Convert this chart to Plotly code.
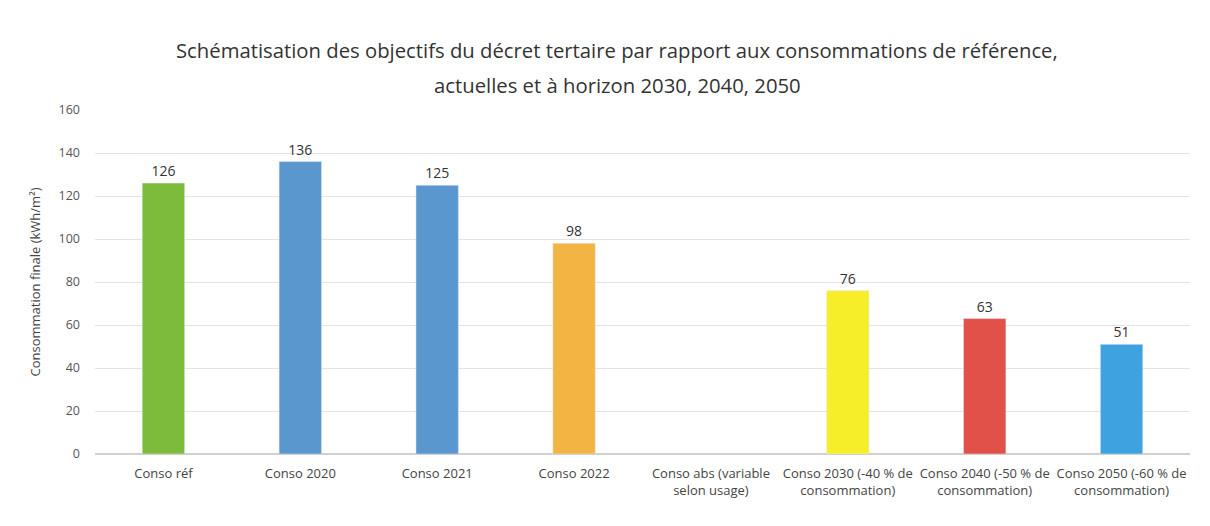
import plotly.graph_objects as go

categories = ["Conso réf", "Conso 2020", "Conso 2021", "Conso 2022",
              "Conso abs (variable<br>selon usage)",
              "Conso 2030 (-40 % de<br>consommation)",
              "Conso 2040 (-50 % de<br>consommation)",
              "Conso 2050 (-60 % de<br>consommation)"]
values = [126, 136, 125, 98, None, 76, 63, 51]
labels = ["126", "136", "125", "98", "", "76", "63", "51"]
colors = ["#7DBB3C", "#5B97CF", "#5B97CF", "#F2B443", "#FFFFFF",
          "#F7EE2A", "#E2504A", "#3FA2E0"]
y_ticks = [0, 20, 40, 60, 80, 100, 120, 140, 160]
title_lines = ["Schématisation des objectifs du décret tertaire par rapport aux consommations de référence,",
               "actuelles et à horizon 2030, 2040, 2050"]

fig = go.Figure(go.Bar(
    x=categories, y=values, marker_color=colors,
    text=labels, textposition="outside",
    textfont=dict(size=14, color="#333333"),
    cliponaxis=False,
))

top, bottom, H = 110, 72, 526
ph = H - top - bottom
for line, py in zip(title_lines, [50, 85]):
    fig.add_annotation(
        text=line, xref="paper", yref="paper",
        x=0.477, y=(H - bottom - py) / ph, xanchor="center", yanchor="middle",
        showarrow=False, font=dict(size=20.3, color="#333333"),
    )

fig.update_layout(
    width=1210, height=526,
    margin=dict(l=95, r=20, t=top, b=bottom),
    paper_bgcolor="white", plot_bgcolor="white",
    font=dict(family="Open Sans", color="#444444"),
    bargap=0.69,
    showlegend=False,
)
fig.update_yaxes(
    range=[0, 160], tickvals=y_ticks, showgrid=True, gridcolor="#E3E3E3",
    zeroline=True, zerolinecolor="#D0D0D0", tickfont=dict(size=12.5, color="#555555"),
    title=dict(text="Consommation finale (kWh/m²)", font=dict(size=13, color="#444444"), standoff=14),
    ticks="", ticklabelstandoff=14,
)
fig.update_xaxes(
    tickfont=dict(size=13, color="#444444"), showline=False, ticks="",
    ticklabelstandoff=10,
)

fig.write_html("out.html")
